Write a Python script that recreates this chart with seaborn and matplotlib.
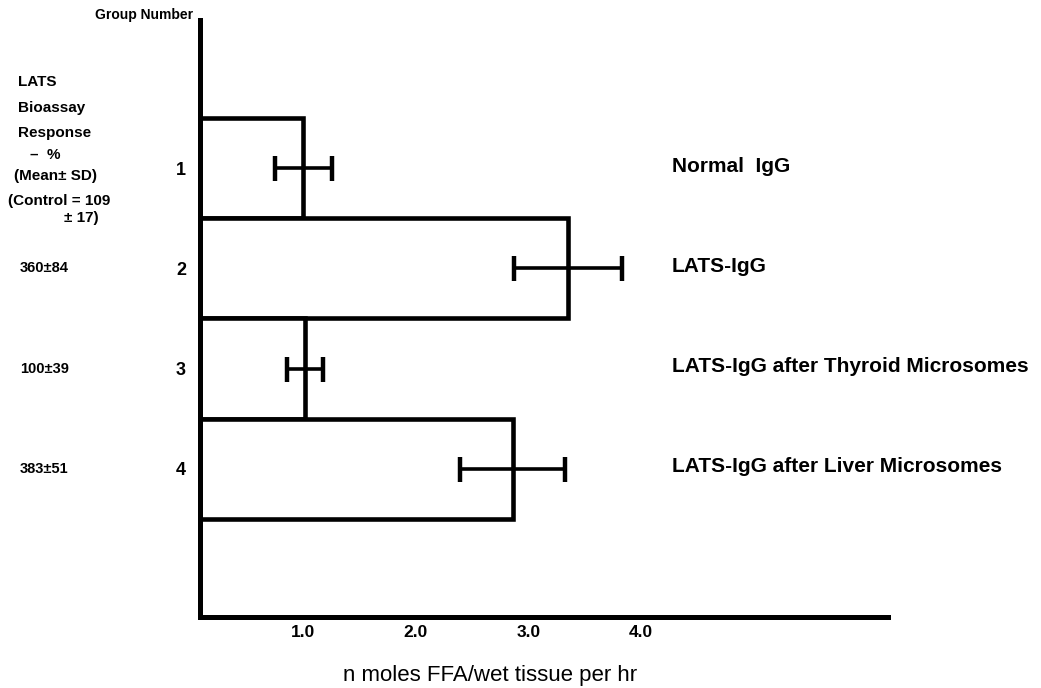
import matplotlib
matplotlib.use("Agg")
import matplotlib.pyplot as plt
import matplotlib.transforms as mtransforms
import numpy as np
import pandas as pd
import seaborn as sns

# Lipolysis response (n moles FFA / wet tissue per hr) for each IgG preparation
groups = ["1", "2", "3", "4"]
group_names = [
    "Normal  IgG",
    "LATS-IgG",
    "LATS-IgG after Thyroid Microsomes",
    "LATS-IgG after Liver Microsomes",
]
ffa_mean = [1.0, 3.35, 1.01, 2.86]
ffa_sd = [0.25, 0.48, 0.16, 0.47]
lats_response = ["", "360\u00b184", "100\u00b139", "383\u00b151"]
x_ticks = [1.0, 2.0, 3.0, 4.0]
x_tick_labels = ["1.0", "2.0", "3.0", "4.0"]

sns.set_style("white")
plt.rcParams["font.family"] = ["Liberation Sans", "DejaVu Sans"]
plt.rcParams["text.color"] = "black"
plt.rcParams["axes.labelcolor"] = "black"
plt.rcParams["xtick.color"] = "black"
plt.rcParams["ytick.color"] = "black"

W, H = 1041, 688
fig = plt.figure(figsize=(W / 100, H / 100), dpi=100)
ax = fig.add_axes([200 / W, (H - 617) / H, (888 - 200) / W, (617 - 20) / H])

df = pd.DataFrame({"group": groups, "ffa": ffa_mean})
sns.barplot(data=df, x="ffa", y="group", orient="h", color="white",
            saturation=1, edgecolor="black", linewidth=3.3, width=1.0,
            errorbar=None, ax=ax)

pos = np.arange(len(groups))
ax.errorbar(ffa_mean, pos, xerr=ffa_sd, fmt="none", ecolor="black",
            elinewidth=2.6, capsize=9, capthick=3.2, zorder=5)

ax.set_xlim(0.08, 6.2)
ax.set_ylim(4.48, -1.48)

for side in ("top", "right"):
    ax.spines[side].set_visible(False)
for side in ("left", "bottom"):
    ax.spines[side].set_linewidth(3.6)
    ax.spines[side].set_color("black")
    ax.spines[side].set_capstyle("projecting")

ax.set_xticks(x_ticks)
ax.set_xticklabels(x_tick_labels, fontsize=12.5, fontweight="bold")
ax.tick_params(axis="x", length=0, pad=6)
ax.tick_params(axis="y", length=0, pad=10)
for lab in ax.get_yticklabels():
    lab.set_fontsize(13)
    lab.set_fontweight("bold")
ax.set_ylabel("")
ax.set_xlabel("n moles FFA/wet tissue per hr", fontsize=16, labelpad=20)
ax.xaxis.set_label_coords((490 - 200) / (888 - 200), -(675 - 617) / (617 - 20))
ax.xaxis.label.set_va("center")

# Group descriptions to the right of the bars
trans = mtransforms.blended_transform_factory(ax.transAxes, ax.transData)
for p, name in zip(pos, group_names):
    ax.text((672 - 200) / (888 - 200), p - 0.02, name, transform=trans,
            ha="left", va="center", fontsize=15, fontweight="bold")

# LATS bioassay values in the left margin
for p, val in zip(pos, lats_response):
    if val:
        ax.text(-(200 - 20) / (888 - 200), p, val, transform=trans,
                ha="left", va="center", fontsize=10.5, fontweight="bold")


def fig_text(x, y, s, **kw):
    fig.text(x / W, 1 - y / H, s, va="center", fontweight="bold", **kw)


fig_text(193, 15, "Group Number", ha="right", fontsize=10)
fig_text(18, 82, "LATS", ha="left", fontsize=11)
fig_text(18, 108, "Bioassay", ha="left", fontsize=11)
fig_text(18, 133, "Response", ha="left", fontsize=11)
fig_text(30, 155, "\u2013  %", ha="left", fontsize=11)
fig_text(14, 176, "(Mean\u00b1 SD)", ha="left", fontsize=11)
fig_text(8, 201, "(Control = 109", ha="left", fontsize=11)
fig_text(64, 218, "\u00b1 17)", ha="left", fontsize=11)

fig.savefig("out.png", dpi=100, facecolor="white")
